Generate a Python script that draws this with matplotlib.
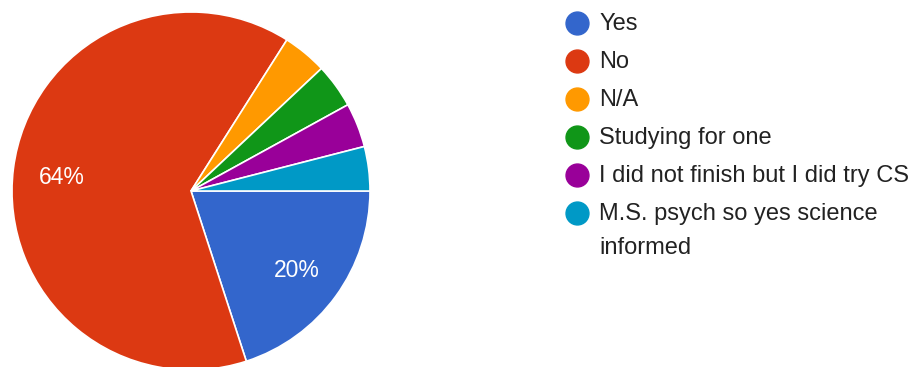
import matplotlib
matplotlib.use("Agg")
from matplotlib import pyplot as plt
from matplotlib.lines import Line2D

labels = ["Yes", "No", "N/A", "Studying for one", "I did not finish but I did try CS",
          "M.S. psych so yes science\ninformed"]
counts = [5, 16, 1, 1, 1, 1]
colors = ["#3366CC", "#DC3912", "#FF9900", "#109618", "#990099", "#0099C6"]

plt.rcParams['font.family'] = ['Liberation Sans', 'DejaVu Sans']

W, H = 916, 367
fig = plt.figure(figsize=(W / 100, H / 100), dpi=100)

# pie: center ~(191,191) px, radius ~179 px
cx, cy, r = 191, 191, 179
ax = fig.add_axes([(cx - r) / W, (H - cy - r) / H, 2 * r / W, 2 * r / H])
ax.pie(counts, colors=colors, startangle=0, counterclock=False,
       autopct=lambda p: f"{p:.0f}%" if p > 5 else "", pctdistance=0.73,
       wedgeprops=dict(edgecolor="white", linewidth=1.2),
       textprops=dict(color="white", fontsize=16.5, va="center_baseline"))
ax.set_xlim(-1, 1)
ax.set_ylim(-1, 1)
ax.set_aspect("equal")
ax.axis("off")

# legend drawn manually
x_dot, x_txt = 577, 599
y0, dy = 23, 38
for i, (lab, c) in enumerate(zip(labels, colors)):
    y = y0 + i * dy
    fig.add_artist(Line2D([x_dot / W], [1 - y / H], marker="o", markersize=16.5,
                          color=c, transform=fig.transFigure, linestyle="none"))
    fig.text(x_txt / W, 1 - (y - 10) / H, lab, fontsize=17, color="#222222",
             va="top", ha="left", linespacing=1.7)

plt.savefig("out.png", dpi=100)
